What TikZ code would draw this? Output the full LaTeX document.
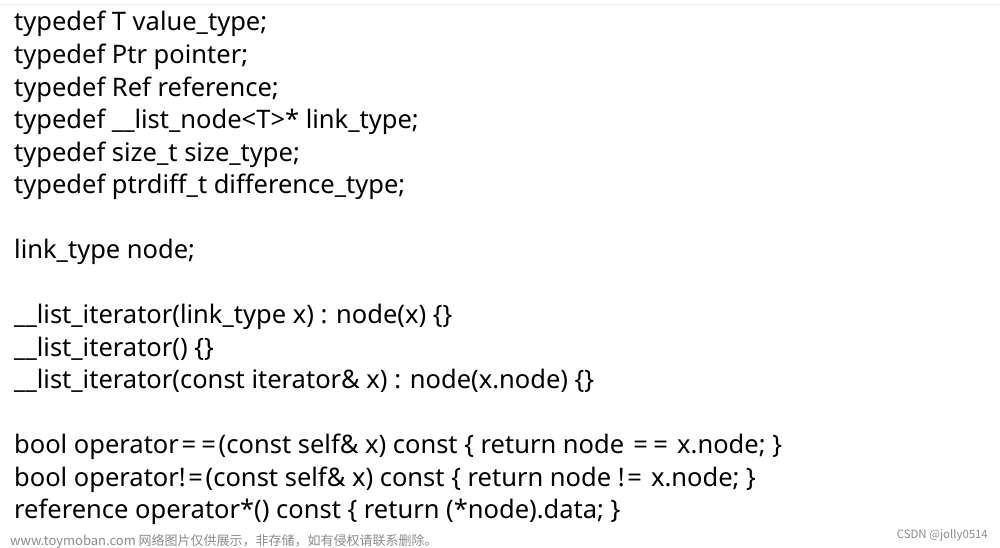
\documentclass[tikz,border=0pt]{standalone}
\usepackage{fontspec}
\setmainfont{Noto Sans}
\newfontfamily\cjk{Noto Sans CJK SC}
\newcommand{\weq}{\makebox[0.78em]{=}}
\begin{document}
\begin{tikzpicture}[x=1pt,y=-1pt,
  codeline/.style={anchor=base west,inner sep=0pt,font=\fontsize{25.5}{30}\selectfont},
  wm/.style={inner sep=0pt,text=black!45}]
\useasboundingbox[fill=white] (0,0) rectangle (1000,548);
\draw[black!8,line width=1pt] (0,5) -- (1000,5);
\foreach \t [count=\i from 0] in {
  {typedef T value\_type;},
  {typedef Ptr pointer;},
  {typedef Ref reference;},
  {typedef \_\_list\_node<T>* link\_type;},
  {typedef size\_t size\_type;},
  {typedef ptrdiff\_t difference\_type;},
  {},
  {link\_type node;},
  {},
  {\_\_list\_iterator(link\_type x) : node(x) \{\}},
  {\_\_list\_iterator() \{\}},
  {\_\_list\_iterator(const iterator\& x) : node(x.node) \{\}},
  {},
  {bool operator\weq\weq(const self\& x) const \{ return node \weq\weq{} x.node; \}},
  {bool operator!\weq(const self\& x) const \{ return node !\weq{} x.node; \}},
  {reference operator*() const \{ return (*node).data; \}}}
  \node[codeline] (l\i) at (14,31+32.53*\i) {\t};
\node[wm,anchor=base west,font=\cjk\fontsize{13}{15}\selectfont] (wm1) at (10,545) {www.toymoban.com 网络图片仅供展示，非存储，如有侵权请联系删除。};
\node[wm,anchor=base east,font=\cjk\fontsize{11.4}{13}\selectfont] (wm2) at (988,538) {CSDN @jolly0514};
\end{tikzpicture}
\end{document}
